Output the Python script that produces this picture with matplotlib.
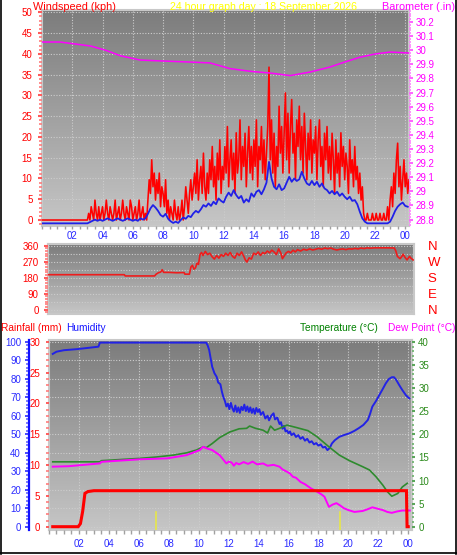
import matplotlib
matplotlib.use('Agg')
import matplotlib.pyplot as plt
import numpy as np
from matplotlib.ticker import MultipleLocator, FixedLocator
from matplotlib.lines import Line2D
from matplotlib.colors import LinearSegmentedColormap

plt.rcParams['font.family'] = ['Liberation Sans', 'DejaVu Sans']

# ---------------- DATA ----------------
title_text = '24 hour graph day : 18 September 2026'
hour_labels = ['02', '04', '06', '08', '10', '12', '14', '16', '18', '20', '22', '00']
hour_ticks = [2, 4, 6, 8, 10, 12, 14, 16, 18, 20, 22, 24]
baro_ticks = [28.8, 28.9, 29.0, 29.1, 29.2, 29.3, 29.4, 29.5, 29.6, 29.7, 29.8, 29.9, 30.0, 30.1, 30.2]
baro_labels = ['28.8', '28.9', '29', '29.1', '29.2', '29.3', '29.4', '29.5', '29.6', '29.7',
               '29.8', '29.9', '30', '30.1', '30.2']
compass_labels = ['N', 'E', 'S', 'W', 'N']

# wind gust (kph), 5-minute samples starting at 00:00
gust_kph = [
    0, 0, 0, 0, 0, 0, 0, 0, 0, 0, 0, 0,
    0, 0, 0, 0, 0, 0, 0, 0, 0, 0, 0, 0,
    0, 0, 0, 0, 0, 0, 0, 0, 0, 0, 0, 0,
    0, 1.6, 0, 3.2, 1.6, 0, 4.8, 1.6, 0, 3.2, 0, 1.6,
    3.2, 0, 1.6, 4.8, 1.6, 0, 3.2, 1.6, 0, 1.6, 4.8, 0,
    1.6, 3.2, 0, 1.6, 4.8, 1.6, 0, 3.2, 1.6, 0, 4.8, 3.2,
    0, 1.6, 3.2, 0, 1.6, 4.8, 0, 1.6, 3.2, 0, 1.6, 0,
    4.8, 9.7, 6.4, 14.5, 8.0, 11.3, 4.8, 9.7, 6.4, 11.3, 3.2, 8.0,
    6.4, 3.2, 9.7, 1.6, 4.8, 0, 3.2, 1.6, 0, 4.8, 1.6, 0,
    3.2, 0, 1.6, 4.8, 0, 3.2, 8.0, 4.8, 1.6, 6.4, 9.7, 4.8,
    8.0, 11.3, 6.4, 14.5, 4.8, 9.7, 12.9, 6.4, 16.1, 8.0, 4.8, 11.3,
    6.4, 14.5, 9.7, 17.7, 8.0, 12.9, 4.8, 16.1, 9.7, 19.3, 6.4, 12.9,
    9.7, 17.7, 11.3, 22.5, 8.0, 14.5, 19.3, 9.7, 16.1, 6.4, 21.0, 11.3,
    14.5, 24.1, 9.7, 17.7, 12.9, 20.9, 8.0, 16.1, 22.5, 11.3, 17.7, 9.7,
    19.3, 12.9, 24.1, 8.0, 17.7, 14.5, 22.5, 11.3, 19.3, 9.7, 16.1, 22.5,
    36.8, 14.5, 24.1, 11.3, 20.9, 8.0, 17.7, 12.9, 27.4, 16.1, 22.5, 11.3,
    20.9, 30.6, 14.5, 25.7, 11.3, 22.5, 29.0, 16.1, 20.9, 9.7, 24.1, 17.7,
    27.4, 14.5, 22.5, 11.3, 25.7, 17.7, 9.7, 20.9, 14.5, 24.1, 11.3, 19.3,
    16.1, 22.5, 9.7, 19.3, 24.1, 12.9, 17.7, 8.0, 20.9, 14.5, 22.5, 11.3,
    17.7, 9.7, 20.9, 14.5, 6.4, 19.3, 11.3, 16.1, 8.0, 21.0, 12.9, 17.7,
    9.7, 16.1, 12.9, 6.4, 19.3, 11.3, 14.5, 8.0, 17.7, 9.7, 12.9, 6.4,
    11.3, 4.8, 8.0, 1.6, 0, 0, 1.6, 0, 0, 0, 1.6, 0,
    0, 1.6, 0, 0, 1.6, 0, 0, 1.6, 0, 0, 3.2, 0,
    4.8, 8.0, 3.2, 11.3, 6.4, 14.5, 18.5, 8.0, 12.9, 4.8, 9.7, 14.5,
    8.0, 11.3, 6.4, 9.7,
]

# average wind speed (kph), 10-minute samples starting at 00:00
avg_kph = [
    -0.8, -0.8, -0.8, -0.8, -0.8, -0.8,
    -0.8, -0.8, -0.8, -0.8, -0.8, -0.8,
    -0.8, -0.8, -0.8, -0.8, -0.8, -0.8,
    -0.8, -0.5, -0.2, 0.1, -0.2, 0.1,
    -0.2, 0.1, 0.4, 0.1, -0.2, 0.1,
    0.4, 0.1, -0.2, 0.1, 0.4, 0.1,
    -0.2, 0.1, -0.2, 0.4, 0.1, 0.4,
    1.5, 2.8, 3.6, 3.0, 2.2, 1.2,
    0.8, 1.5, 0.3, -0.3, -0.7, -0.4,
    -0.7, 0.0, 0.6, 0.3, 1.0, 0.7,
    1.6, 2.2, 1.8, 2.6, 3.6, 3.2,
    4.0, 3.4, 4.4, 3.8, 5.2, 4.6,
    4.2, 5.6, 6.6, 5.8, 7.2, 6.0,
    5.2, 5.8, 4.2, 5.0, 4.4, 6.4,
    5.6, 6.8, 7.2, 6.2, 7.4, 9.0,
    14.0, 10.0, 8.0, 7.4, 8.6, 7.2,
    7.6, 9.0, 10.4, 9.2, 10.0, 9.4,
    9.8, 11.6, 10.0, 8.8, 8.4, 9.4,
    8.4, 9.2, 8.0, 8.8, 7.6, 7.2,
    6.4, 7.0, 6.2, 6.8, 5.8, 6.4,
    5.6, 5.0, 5.6, 4.6, 4.8, 3.8,
    2.0, 0.4, -0.4, -0.8, -0.8, -0.8,
    -0.8, -0.8, -0.8, -0.8, -0.8, -0.8,
    -0.4, 0.8, 2.2, 3.2, 3.8, 4.2,
    3.4, 3.2,
]

baro_hours = [0.0, 1.2, 2.2, 3.2, 4.2, 5.2, 6.5, 8.1, 9.8, 11.1, 12.4, 13.8,
              15.1, 16.4, 17.7, 19.0, 20.0, 21.0, 22.0, 23.0, 24.25]
baro_inhg = [30.058, 30.058, 30.044, 30.03, 30.0, 29.96, 29.93, 29.923, 29.916,
             29.91, 29.87, 29.85, 29.838, 29.82, 29.845, 29.88, 29.916, 29.95,
             29.973, 29.987, 29.98]

dir_hours = [0.0, 5.05, 5.1, 7.05, 7.15, 7.3, 7.45, 7.55, 7.65, 8.0, 8.5, 9.0, 9.05,
             9.35, 9.45, 9.55, 9.65, 9.75, 9.85, 9.95, 10.05, 10.15, 10.25, 10.4,
             10.55, 10.7, 10.85, 11.0, 11.15, 11.3, 11.45, 11.6, 11.75, 11.9, 12.05,
             12.2, 12.35, 12.5, 12.65, 12.8, 12.95, 13.05, 13.15, 13.3, 13.45, 13.6,
             13.75, 13.9, 14.05, 14.2, 14.35, 14.5, 14.65, 14.8, 14.95, 15.1, 15.25,
             15.4, 15.5, 15.6, 15.75, 15.9, 16.05, 16.2, 16.35, 16.5, 16.7, 16.9,
             17.1, 17.3, 17.5, 17.7, 17.9, 18.1, 18.3, 18.5, 18.7, 18.9, 19.1, 19.3,
             19.5, 19.7, 19.9, 20.1, 20.3, 20.5, 20.7, 20.9, 21.1, 21.3, 21.6, 22.0,
             22.5, 22.9, 23.0, 23.1, 23.28, 23.4, 23.48, 23.6, 23.74, 23.9, 24.0, 24.14]
dir_deg = [197, 197, 190, 190, 200, 208, 212, 225, 210, 210, 208, 209, 200,
           200, 240, 250, 228, 235, 262, 255, 310, 322, 305, 328,
           310, 318, 298, 285, 305, 290, 310, 300, 318, 305, 322,
           300, 290, 318, 305, 325, 300, 280, 268, 292, 285, 318,
           310, 325, 305, 322, 315, 330, 320, 335, 325, 310, 342,
           318, 287, 300, 320, 328, 320, 335, 325, 338, 330, 340,
           335, 342, 336, 340, 345, 340, 347, 343, 347, 340, 336, 340,
           342, 338, 343, 341, 345, 342, 347, 344, 348, 346, 348, 348,
           348, 347, 330, 300, 287, 300, 312, 295, 280, 300, 290, 280]

hum_hours = [0.25, 0.5, 1.0, 1.9, 3.3, 3.4, 10.5, 10.6, 10.7, 10.8, 10.9, 11.05, 11.2,
             11.3, 11.45, 11.55, 11.65, 11.75, 11.85, 11.95, 12.05, 12.15, 12.25,
             12.35, 12.45, 12.55, 12.65, 12.75, 12.85, 12.95, 13.05, 13.15, 13.25,
             13.35, 13.45, 13.55, 13.65, 13.75, 13.85, 13.95, 14.05, 14.15, 14.3,
             14.45, 14.6, 14.7, 14.85, 15.0, 15.1, 15.25, 15.4, 15.5, 15.6, 15.7,
             15.8, 15.9, 16.0, 16.1, 16.2, 16.35, 16.5, 16.65, 16.8, 16.95, 17.1,
             17.25, 17.4, 17.55, 17.7, 17.85, 18.0, 18.15, 18.3, 18.45, 18.6, 18.75,
             18.9, 19.1, 19.4, 19.7, 20.1, 20.4, 20.7, 21.0, 21.3, 21.45, 21.6,
             21.85, 22.07, 22.3, 22.5, 22.7, 22.9, 23.05, 23.2, 23.4, 23.6, 23.85,
             24.07]
hum_pct = [93.4, 94.6, 95.4, 96.0, 97.3, 99.5, 99.5, 98.0, 95.5, 91.0, 86.5, 83.0, 81.0,
           78.0, 77.0, 73.0, 70.0, 68.0, 65.0, 66.5, 63.5, 66.9, 64.0,
           62.2, 65.5, 62.0, 64.5, 61.5, 64.8, 63.0, 66.0, 62.5, 65.0,
           62.0, 64.5, 61.5, 63.8, 61.0, 64.2, 62.0, 63.5, 60.5, 62.0,
           58.5, 60.0, 57.5, 60.0, 61.3, 58.0, 59.0, 55.5, 56.5, 53.0, 54.5,
           51.5, 52.0, 50.5, 51.5, 49.5, 50.5, 48.5, 49.5, 47.5, 48.5, 46.5,
           47.5, 45.5, 46.2, 44.5, 45.2, 43.8, 44.5, 42.8, 43.2, 41.4, 42.5,
           45.0, 46.8, 48.6, 49.5, 50.6, 51.8, 53.3, 55.0, 57.7, 61.0, 64.9,
           68.0, 71.2, 74.5, 77.5, 79.8, 80.8, 80.8, 79.3, 76.5, 73.9, 71.0,
           69.4]

temp_hours = [0.25, 3.4, 3.5, 6.1, 7.2, 8.3, 9.2, 9.85, 10.3, 10.5, 10.9, 11.4, 12.07,
              12.7, 13.2, 13.4, 13.8, 14.3, 14.6, 14.8, 15.07, 15.4, 15.9, 16.5,
              17.3, 17.9, 18.7, 19.4, 20.07, 20.95, 21.4, 21.85, 22.3, 22.6, 22.9,
              23.3, 23.6, 23.93]
temp_c = [14.05, 14.05, 14.3, 14.8, 15.1, 15.5, 16.0, 16.6, 17.3, 17.1, 18.0, 19.3, 20.5,
          21.2, 21.3, 21.8, 21.3, 20.9, 20.3, 21.8, 20.9, 21.3, 22.0, 21.5,
          20.8, 19.5, 17.3, 15.5, 14.3, 13.0, 12.3, 10.8, 9.0, 7.6, 6.6,
          7.2, 8.6, 9.4]

dew_hours = [0.25, 1.3, 3.4, 3.5, 6.1, 7.9, 9.2, 10.07, 10.3, 10.5, 10.9, 11.4, 11.85,
             12.0, 12.2, 12.35, 12.5, 12.7, 13.0, 13.3, 13.6, 13.9, 14.3, 14.6, 15.0,
             15.4, 15.6, 15.9, 16.1, 16.3, 16.5, 16.8, 17.1, 17.5, 17.9, 18.2, 18.4,
             18.55, 18.7, 18.95, 19.2, 19.45, 19.7, 20.0, 20.4, 20.95, 21.3, 21.6,
             21.95, 22.3, 22.6, 22.9, 23.25, 23.6, 24.1]
dew_c = [13.0, 13.1, 13.7, 14.05, 14.6, 14.8, 15.5, 16.6, 17.3, 17.0, 16.6, 15.5, 13.7,
         14.1, 13.9, 13.2, 13.8, 13.5, 14.0, 13.6, 14.1, 13.5, 13.7, 13.2, 13.4,
         13.0, 12.4, 11.9, 11.5, 10.8, 10.6, 9.7, 9.2, 8.3, 7.6, 7.0, 6.5,
         5.4, 4.3, 4.8, 5.1, 4.6, 4.0, 3.6, 3.2, 3.4, 3.8, 4.2,
         3.9, 3.6, 3.2, 3.0, 3.3, 3.5, 3.5]

rain_hours = [0.25, 1.95, 2.1, 2.25, 2.4, 2.6, 3.0, 23.88, 23.92, 24.0]
rain_mm = [0.0, 0.0, 0.5, 2.5, 5.4, 5.7, 5.84, 5.84, 0.0, 0.0]

sun_marks = [7.18, 19.45]

# ---------------- LAYOUT ----------------
W, H = 457, 555
fig = plt.figure(figsize=(W / 100, H / 100), dpi=100)
fig.patch.set_facecolor('white')


def box(x0, y0, x1, y1):
    return [x0 / W, 1 - y1 / H, (x1 - x0) / W, (y1 - y0) / H]


grad = LinearSegmentedColormap.from_list('g', ['#7c7c7c', '#c6c6c6'])
GRID = '#cdcdcd'
FRAME = '#c8c8c8'
TICKGRAY = '#a0a0a0'
XLAB = '#2a2aff'


def background(rect, xlim, ylim, hgrid, vgrid):
    bg = fig.add_axes(rect, zorder=0)
    g = np.linspace(0, 1, 256).reshape(-1, 1)
    bg.imshow(g, extent=(0, 1, 0, 1), transform=bg.transAxes, cmap=grad,
              aspect='auto', origin='upper', interpolation='bilinear', zorder=0)
    bg.set_xlim(xlim)
    bg.set_ylim(ylim)
    for v in hgrid:
        bg.axhline(v, color=GRID, lw=0.8, ls=(0, (1, 1.5)), zorder=1)
    for v in vgrid:
        bg.axvline(v, color=GRID, lw=0.8, ls=(0, (1, 1.5)), zorder=1)
    bg.set_xticks([])
    bg.set_yticks([])
    for s in bg.spines.values():
        s.set_color(FRAME)
        s.set_linewidth(1.5)
    return bg


def clean(ax):
    ax.patch.set_visible(False)
    for s in ax.spines.values():
        s.set_visible(False)


# ---------------- PANEL 1 : wind + barometer ----------------
r1 = box(42, 10, 409, 226)
xl1 = (0.0, 24.25)
wl = (-1.44, 50.55)
bl = (28.754, 30.285)
background(r1, xl1, wl, range(0, 51, 5), hour_ticks)

ax1 = fig.add_axes(r1, zorder=2)
clean(ax1)
ax1.plot(np.arange(len(gust_kph)) / 12.0, gust_kph, color='#ff0000', lw=1.15)
ax1.plot(np.arange(len(avg_kph)) / 6.0, avg_kph, color='#2020e8', lw=1.3)
ax1.set_xlim(xl1)
ax1.set_ylim(wl)
ax1.yaxis.set_major_locator(MultipleLocator(5))
ax1.yaxis.set_minor_locator(MultipleLocator(1))
ax1.tick_params(axis='y', which='major', colors='#ff5a5a', labelcolor='#ff0000',
                length=3.2, width=1.5, pad=3.6, labelsize=7)
ax1.tick_params(axis='y', which='minor', colors='#ff7a7a', length=2, width=1.2)
ax1.set_xticks(hour_ticks)
ax1.set_xticklabels(hour_labels)
ax1.xaxis.set_minor_locator(MultipleLocator(0.5))
ax1.tick_params(axis='x', which='both', colors=TICKGRAY, labelcolor=XLAB,
                length=2.2, width=1, pad=1.5, labelsize=7)

ax1b = ax1.twinx()
clean(ax1b)
ax1b.plot(baro_hours, baro_inhg, color='#ff00ff', lw=1.1)
ax1b.set_ylim(bl)
ax1b.set_xlim(xl1)
ax1b.yaxis.set_major_locator(FixedLocator(baro_ticks))
ax1b.set_yticklabels(baro_labels)
ax1b.yaxis.set_minor_locator(MultipleLocator(0.02))
ax1b.tick_params(axis='y', which='major', colors='#ff66ff', labelcolor='#ff00ff',
                 length=3, width=1.5, pad=2, labelsize=7)
ax1b.tick_params(axis='y', which='minor', colors='#ff80ff', length=1.5, width=1.2)

# ---------------- PANEL 2 : wind direction ----------------
r2 = box(48, 244, 414, 314)
xl2 = (0.0, 24.2)
dl = (-24, 369.6)
background(r2, xl2, dl, [0, 45, 90, 135, 180, 225, 270, 315, 360], [])
ax2 = fig.add_axes(r2, zorder=2)
clean(ax2)
ax2.plot(dir_hours, dir_deg, color='#ee1c1c', lw=1.2)
ax2.set_xlim(xl2)
ax2.set_ylim(dl)
ax2.set_xticks([])
ax2.set_yticks([0, 90, 180, 270, 360])
ax2.yaxis.set_minor_locator(MultipleLocator(15))
ax2.tick_params(axis='y', which='major', colors='#ff5a5a', labelcolor='#ff0000',
                length=3, width=1.5, pad=3.6, labelsize=7)
ax2.tick_params(axis='y', which='minor', colors='#ff7a7a', length=2, width=1.2)
ax2r = ax2.twinx()
clean(ax2r)
ax2r.set_ylim(dl)
ax2r.set_yticks([0, 90, 180, 270, 360])
ax2r.set_yticklabels(compass_labels)
ax2r.tick_params(axis='y', length=0, pad=10, labelsize=9.5, labelcolor='#ff0000')

# ---------------- PANEL 3 : rain / humidity / temperature ----------------
r3 = box(49, 340, 412, 530)
xl3 = (0.0, 24.25)
rl = (-0.535, 30.276)
hl = (-1.78, 100.92)
tl = (-0.715, 40.433)
background(r3, xl3, rl, [v * 0.3 for v in range(0, 101, 10)], hour_ticks)

axH = fig.add_axes(r3, zorder=2)
clean(axH)
axH.plot(hum_hours, hum_pct, color='#2222e6', lw=1.4)
axH.set_xlim(xl3)
axH.set_ylim(hl)
axH.set_xticks([])
axH.spines['left'].set_visible(True)
axH.spines['left'].set_position(('outward', 14.4))
axH.spines['left'].set_color('#1010ff')
axH.spines['left'].set_linewidth(1.6)
axH.yaxis.set_major_locator(MultipleLocator(10))
axH.yaxis.set_minor_locator(MultipleLocator(2))
axH.tick_params(axis='y', which='major', colors='#4a4aff', labelcolor='#2a2aff',
                length=3.2, width=1.4, pad=2.6, labelsize=7)
axH.tick_params(axis='y', which='minor', colors='#6a6aff', length=2.2, width=1.2)

axT = fig.add_axes(r3, zorder=3)
clean(axT)
axT.plot(temp_hours, temp_c, color='#2e8b2e', lw=1.2)
axT.plot(dew_hours, dew_c, color='#ff00ff', lw=1.4)
axT.set_xlim(xl3)
axT.set_ylim(tl)
axT.set_xticks([])
axT.yaxis.tick_right()
axT.yaxis.set_major_locator(MultipleLocator(5))
axT.yaxis.set_minor_locator(MultipleLocator(1))
axT.tick_params(axis='y', which='major', colors='#5aa55a', labelcolor='#2a8a1a',
                length=2.5, width=1.5, pad=2, labelsize=7)
axT.tick_params(axis='y', which='minor', colors='#6aaf6a', length=1.6, width=1.2)

ax3 = fig.add_axes(r3, zorder=4)
clean(ax3)
ax3.plot(rain_hours, rain_mm, color='#ff0000', lw=2.2, solid_joinstyle='miter')
for s in sun_marks:
    ax3.axvline(s, ymin=0, ymax=0.095, color='#e6e64a', lw=1.2)
ax3.set_xlim(xl3)
ax3.set_ylim(rl)
ax3.yaxis.set_major_locator(MultipleLocator(5))
ax3.yaxis.set_minor_locator(MultipleLocator(1))
ax3.tick_params(axis='y', which='major', colors='#ff5a5a', labelcolor='#ff0000',
                length=2.5, width=1.4, pad=4, labelsize=7)
ax3.tick_params(axis='y', which='minor', colors='#ff7a7a', length=2, width=1.2)
ax3.set_xticks(hour_ticks)
ax3.set_xticklabels(hour_labels)
ax3.xaxis.set_minor_locator(MultipleLocator(0.5))
ax3.tick_params(axis='x', which='both', colors=TICKGRAY, labelcolor=XLAB,
                length=3, width=1, pad=3.5, labelsize=7)

# ---------------- HEADERS ----------------
def px_text(x, y, s, color, ha='left', size=8):
    fig.text(x / W, 1 - y / H, s, color=color, ha=ha, va='baseline', fontsize=size)

px_text(33, 9.5, 'Windspeed (kph)', '#ff0000', size=7.8)
px_text(263.5, 9.5, title_text, '#ffff00', ha='center', size=7.6)
px_text(455, 9.5, 'Barometer (.in)', '#ff00ff', ha='right', size=7.8)
px_text(1, 330.7, 'Rainfall (mm)', '#ff0000', size=7.3)
px_text(66, 330.7, 'Humidity', '#1515ff', size=7.3)
px_text(378, 330.7, 'Temperature (°C)', '#008000', ha='right', size=7.3)
px_text(455, 330.7, 'Dew Point (°C)', '#ff00ff', ha='right', size=7.3)

# black frame around the picture (left, right, bottom)
for xs, ys in [([0.8, 0.8], [0, 553.5]), ([456.2, 456.2], [0, 553.5]), ([0, 457], [553.2, 553.2])]:
    fig.add_artist(Line2D([x / W for x in xs], [1 - y / H for y in ys],
                          transform=fig.transFigure, color='black', lw=1.2))

fig.savefig('out.png', dpi=100, facecolor='white')
